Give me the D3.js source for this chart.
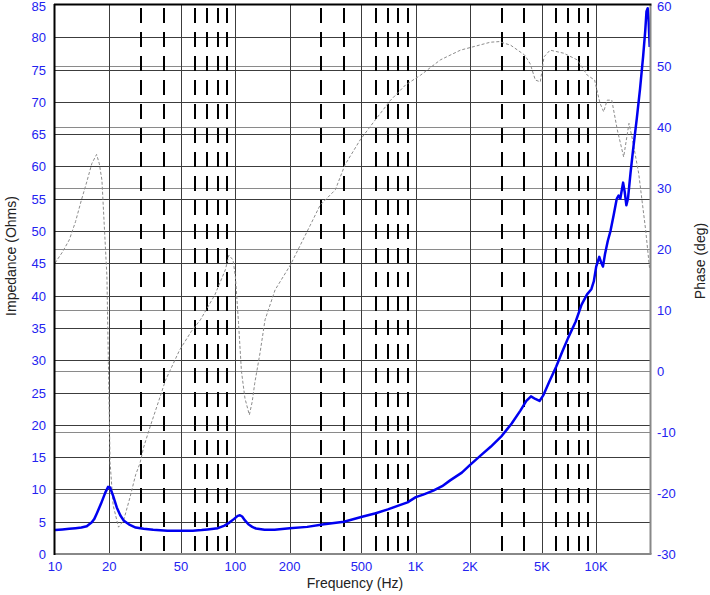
<!DOCTYPE html>
<html>
<head>
<meta charset="utf-8">
<script src="https://cdn.jsdelivr.net/npm/d3@7"></script>
<style>
  body { margin: 0; background: #fff; }
  text { font-family: Arial, "Liberation Sans", sans-serif; }
</style>
</head>
<body>
<div id="chart"></div>
<script>
// Impedance / phase plot of a loudspeaker driver

const impFreq = [10, 11, 12, 13, 14, 15, 16, 16.5, 17, 18, 19, 19.7, 20.2, 21, 22, 23, 24, 26, 28, 31, 35, 42, 50, 58, 65, 70, 80, 87, 93, 98, 103, 106, 109, 113, 118, 124, 130, 145, 165, 200, 250, 310, 400, 510, 600, 700, 800, 900, 1000, 1100, 1250, 1400, 1550, 1800, 2000, 2300, 2600, 3000, 3400, 3800, 4100, 4350, 4600, 4850, 5100, 5500, 6000, 6500, 7000, 7700, 8300, 8900, 9400, 9700, 10000, 10400, 10700, 10900, 11200, 11600, 12000, 12500, 13000, 13300, 13600, 13900, 14100, 14400, 14700, 15000, 15500, 16000, 16800, 17500, 18200, 18700, 19000, 19300, 19500, 19800];
const impValues = [3.7, 3.8, 3.9, 4.0, 4.1, 4.3, 4.9, 5.4, 6.2, 7.8, 9.5, 10.4, 10.3, 9.0, 7.2, 6.0, 5.2, 4.5, 4.1, 3.9, 3.75, 3.6, 3.6, 3.6, 3.7, 3.8, 4.0, 4.4, 4.9, 5.4, 5.9, 6.0, 5.8, 5.2, 4.6, 4.2, 3.95, 3.75, 3.75, 4.0, 4.2, 4.6, 5.0, 5.8, 6.3, 6.9, 7.5, 8.0, 8.8, 9.2, 9.8, 10.5, 11.4, 12.6, 13.8, 15.3, 16.6, 18.3, 20.2, 22.2, 23.7, 24.4, 24.0, 23.7, 24.6, 26.7, 29.0, 31.4, 33.5, 36.0, 38.6, 40.2, 41.0, 42.2, 44.5, 46.0, 45.0, 44.5, 46.5, 48.5, 50.0, 52.5, 55.0, 55.5, 55.0, 56.5, 57.5, 56.0, 54.0, 55.0, 59.0, 62.5, 67.5, 72, 77, 81.0, 84.0, 84.5, 83.0, 78.5];

const phaseFreq = [10, 11, 12, 13, 14, 15, 16, 17, 17.6, 18.2, 19.4, 20.2, 21, 22.5, 24, 26, 28, 29.6, 31, 33.7, 37.5, 41, 49, 57, 64, 77, 88, 92, 97, 100, 104, 108, 113, 119.5, 124, 128, 137, 146, 166, 202, 260, 295, 358, 405, 492, 594, 725, 878, 1063, 1368, 1769, 2590, 2900, 3360, 4010, 4300, 4600, 4900, 5140, 5550, 6600, 7860, 8920, 9800, 10500, 11000, 11500, 12200, 13100, 14200, 15200, 15900, 17200, 18800, 19800];
const phaseValues = [17.7, 19.5, 21.5, 24.5, 28.0, 31.0, 34.0, 35.5, 34.0, 31.3, 15.5, -15, -22, -25.6, -24.5, -20.8, -17, -15.1, -12.5, -9.1, -5.0, -1.5, 3.4, 6.5, 8.4, 12.5, 16.6, 19.0, 18.2, 15.5, 8, 0, -4.5, -7.2, -5, -2.0, 3, 8.4, 13.3, 17.4, 23.9, 27.2, 29.7, 33.8, 37.9, 41.1, 44.4, 46.9, 48.5, 51.0, 52.6, 53.9, 54, 53.4, 51.8, 50.4, 47.7, 47.4, 51.5, 52.6, 52.1, 51.0, 48.5, 47.7, 43.9, 42.5, 44.4, 44.4, 39.5, 35.1, 40.6, 37.9, 32.4, 23.1, 16.6];

const impTicks = d3.range(0, 90, 5);
const phaseTicks = d3.range(-30, 70, 10);
const freqTicks = [10, 20, 50, 100, 200, 500, 1000, 2000, 5000, 10000];
const freqLabels = ["10", "20", "50", "100", "200", "500", "1K", "2K", "5K", "10K"];
const majorFreqs = [20, 50, 100, 200, 500, 1000, 2000, 5000, 10000];
const minorFreqs = [30, 40, 60, 70, 80, 90, 300, 400, 600, 700, 800, 900, 3000, 4000, 6000, 7000, 8000, 9000];

const W = 710, H = 595;
const plot = { left: 55, right: 650.5, top: 5, bottom: 554 };
const tickColor = "#2323f0";

const svg = d3.select("#chart")
  .append("svg")
  .attr("width", W)
  .attr("height", H);

const x = d3.scaleLog().domain([10, 20000]).range([plot.left, plot.right]);
const yImp = d3.scaleLinear().domain([0, 85]).range([plot.bottom, plot.top]);
const yPh = d3.scaleLinear().domain([-30, 60]).range([plot.bottom, plot.top]);

// phase gridlines (lighter)
svg.append("g")
  .selectAll("line")
  .data(phaseTicks.slice(1, -1))
  .join("line")
  .attr("x1", plot.left).attr("x2", plot.right)
  .attr("y1", d => Math.round(yPh(d)) + 0.5)
  .attr("y2", d => Math.round(yPh(d)) + 0.5)
  .attr("stroke", "#8a8a8a")
  .attr("stroke-width", 1);

// impedance gridlines
svg.append("g")
  .selectAll("line")
  .data(impTicks.slice(1, -1))
  .join("line")
  .attr("x1", plot.left).attr("x2", plot.right)
  .attr("y1", d => Math.round(yImp(d)) + 0.5)
  .attr("y2", d => Math.round(yImp(d)) + 0.5)
  .attr("stroke", "#3c3c3c")
  .attr("stroke-width", 1);

// decade / major verticals
svg.append("g")
  .selectAll("line")
  .data(majorFreqs)
  .join("line")
  .attr("x1", d => Math.round(x(d)) + 0.5)
  .attr("x2", d => Math.round(x(d)) + 0.5)
  .attr("y1", plot.top).attr("y2", plot.bottom)
  .attr("stroke", "#3c3c3c")
  .attr("stroke-width", 1);

// minor verticals, dashed
svg.append("g")
  .selectAll("line")
  .data(minorFreqs)
  .join("line")
  .attr("x1", d => Math.round(x(d)))
  .attr("x2", d => Math.round(x(d)))
  .attr("y1", plot.top).attr("y2", plot.bottom)
  .attr("stroke", "#000")
  .attr("stroke-width", 2)
  .attr("stroke-dasharray", "15,9")
  .attr("stroke-dashoffset", 21);

// phase curve
const phaseLine = d3.line()
  .x((d, i) => x(phaseFreq[i]))
  .y(d => yPh(d));

svg.append("path")
  .datum(phaseValues)
  .attr("fill", "none")
  .attr("stroke", "#8c8c8c")
  .attr("stroke-width", 1)
  .attr("stroke-dasharray", "3,2")
  .attr("d", phaseLine);

// impedance curve
const impLine = d3.line()
  .x((d, i) => x(impFreq[i]))
  .y(d => yImp(d));

svg.append("path")
  .datum(impValues)
  .attr("fill", "none")
  .attr("stroke", "#0000f0")
  .attr("stroke-width", 2.5)
  .attr("stroke-linejoin", "round")
  .attr("d", impLine);

// frame: dark top/left, grey bottom/right
svg.append("line")
  .attr("x1", plot.right).attr("x2", plot.right)
  .attr("y1", plot.top).attr("y2", plot.bottom)
  .attr("stroke", "#888").attr("stroke-width", 2);
svg.append("line")
  .attr("x1", plot.left).attr("x2", plot.right + 1)
  .attr("y1", plot.bottom).attr("y2", plot.bottom)
  .attr("stroke", "#888").attr("stroke-width", 2);
svg.append("line")
  .attr("x1", plot.left - 1).attr("x2", plot.right + 1)
  .attr("y1", plot.top - 0.5).attr("y2", plot.top - 0.5)
  .attr("stroke", "#000").attr("stroke-width", 2);
svg.append("line")
  .attr("x1", plot.left - 0.5).attr("x2", plot.left - 0.5)
  .attr("y1", plot.top - 1).attr("y2", plot.bottom + 1)
  .attr("stroke", "#000").attr("stroke-width", 2);

// tick labels
svg.append("g")
  .selectAll("text")
  .data(impTicks)
  .join("text")
  .attr("x", 46)
  .attr("y", d => Math.max(yImp(d) + 5, 11))
  .attr("text-anchor", "end")
  .attr("font-size", 13)
  .attr("fill", tickColor)
  .text(d => d);

svg.append("g")
  .selectAll("text")
  .data(phaseTicks)
  .join("text")
  .attr("x", 657)
  .attr("y", d => Math.max(yPh(d) + 5, 11))
  .attr("text-anchor", "start")
  .attr("font-size", 13)
  .attr("fill", tickColor)
  .text(d => d);

svg.append("g")
  .selectAll("text")
  .data(freqTicks)
  .join("text")
  .attr("x", d => x(d))
  .attr("y", 571)
  .attr("text-anchor", "middle")
  .attr("font-size", 13)
  .attr("fill", tickColor)
  .text((d, i) => freqLabels[i]);

// axis titles
svg.append("text")
  .attr("x", 355)
  .attr("y", 588)
  .attr("text-anchor", "middle")
  .attr("font-size", 14)
  .attr("fill", "#222")
  .text("Frequency (Hz)");

svg.append("text")
  .attr("transform", "translate(16,256) rotate(-90)")
  .attr("text-anchor", "middle")
  .attr("font-size", 14)
  .attr("fill", "#222")
  .text("Impedance (Ohms)");

svg.append("text")
  .attr("transform", "translate(705,261) rotate(-90)")
  .attr("text-anchor", "middle")
  .attr("font-size", 14)
  .attr("fill", "#222")
  .text("Phase (deg)");
</script>
</body>
</html>
